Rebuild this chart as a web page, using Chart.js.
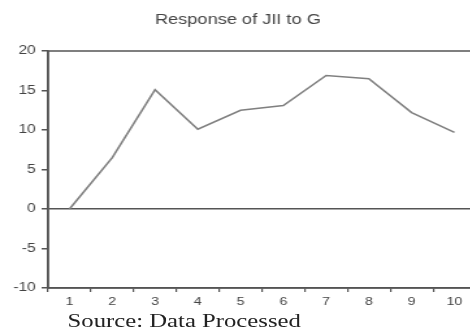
<!DOCTYPE html>
<html lang="en">
<head>
<meta charset="UTF-8">
<script src="https://cdn.jsdelivr.net/npm/chart.js@4/dist/chart.umd.min.js"></script>
<title>Response of JII to G</title>
<style>
  body { margin: 0; width: 470px; height: 335px; overflow: hidden; background: #fff; position: relative; }
  /* the source picture is stretched sideways, so the whole figure is too */
  #wrap { position: absolute; left: 0; top: 0; width: 369px; height: 335px; transform: scaleX(1.3); transform-origin: 0 0; }
  #chart { position: absolute; left: 0; top: 0; }
  #source { position: absolute; left: 52px; top: 310px; font-family: "Liberation Serif", "Times New Roman", serif; font-size: 19px; color: #222; white-space: nowrap; }
</style>
</head>
<body>
<div id="wrap">
  <canvas id="chart" width="369" height="310"></canvas>
  <div id="source">Source: Data Processed</div>
</div>
<script>
const periods = ['1', '2', '3', '4', '5', '6', '7', '8', '9', '10'];
const response = [0, 6.5, 15.1, 10.1, 12.5, 13.1, 16.9, 16.5, 12.2, 9.7];
const chartTitle = 'Response of JII to G';

const font = 'Liberation Sans, Arial, sans-serif';

// box round the plot area (top and right sides are not axes)
const frame = {
  id: 'frame',
  afterDraw(chart) {
    const a = chart.chartArea, c = chart.ctx;
    c.save();
    c.strokeStyle = '#555';
    c.lineWidth = 1.5;
    c.strokeRect(a.left, a.top, a.right - a.left, a.bottom - a.top);
    c.restore();
  }
};

new Chart(document.getElementById('chart'), {
  type: 'line',
  data: {
    labels: periods,
    datasets: [{
      data: response,
      borderColor: '#808080',
      borderWidth: 1.6,
      pointRadius: 0,
      tension: 0
    }]
  },
  options: {
    responsive: false,
    animation: false,
    layout: { padding: { right: 3 } },
    plugins: {
      legend: { display: false },
      tooltip: { enabled: false },
      title: {
        display: true,
        text: chartTitle,
        color: '#444',
        font: { family: font, size: 14, weight: 'normal' },
        padding: { top: 12, bottom: 22.2 }
      }
    },
    scales: {
      x: {
        offset: true,
        grid: { offset: true, drawOnChartArea: false, tickLength: 4, color: '#555', lineWidth: 1.2 },
        border: { color: '#555', width: 1.5 },
        ticks: { color: '#444', padding: 3.4, maxRotation: 0, font: { family: font, size: 11 } },
        afterFit: s => { s.height = 22; }
      },
      y: {
        min: -10,
        max: 20,
        ticks: { stepSize: 5, color: '#444', padding: 4.5, font: { family: font, size: 12 } },
        grid: {
          tickLength: 5,
          tickColor: '#555',
          lineWidth: 1.5,
          color: ctx => ctx.tick && ctx.tick.value === 0 ? '#555' : 'rgba(0,0,0,0)'
        },
        border: { color: '#555', width: 1.5 },
        afterFit: s => { s.width = 37; }
      }
    }
  },
  plugins: [frame]
});
</script>
</body>
</html>
